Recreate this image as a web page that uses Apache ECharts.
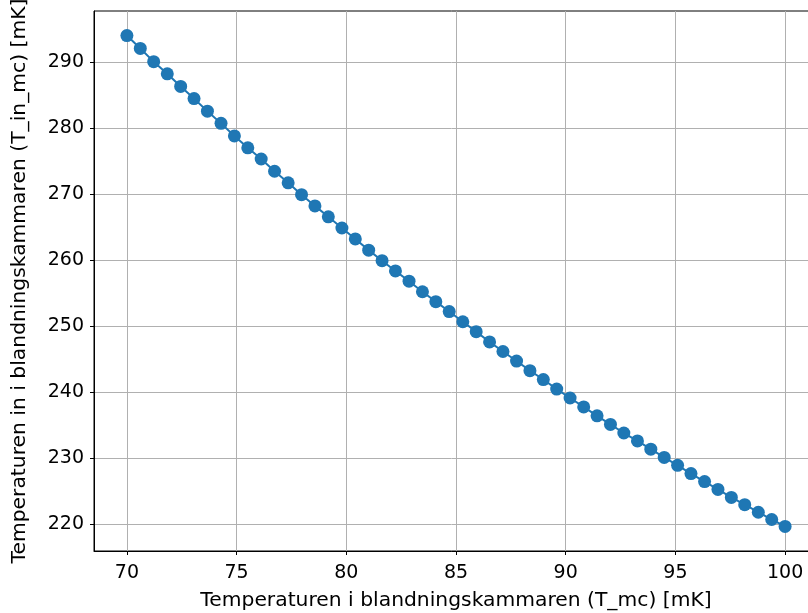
<!DOCTYPE html>
<html>
<head>
<meta charset="utf-8">
<script src="https://cdn.jsdelivr.net/npm/echarts@6/dist/echarts.min.js"></script>
<style>
html,body{margin:0;padding:0;background:#fff;}
#c{width:808px;height:613px;}
</style>
</head>
<body>
<div id="c"></div>
<script>
const tMc = [70.00, 70.61, 71.22, 71.84, 72.45, 73.06, 73.67, 74.29, 74.90, 75.51,
  76.12, 76.73, 77.35, 77.96, 78.57, 79.18, 79.80, 80.41, 81.02, 81.63,
  82.24, 82.86, 83.47, 84.08, 84.69, 85.31, 85.92, 86.53, 87.14, 87.76,
  88.37, 88.98, 89.59, 90.20, 90.82, 91.43, 92.04, 92.65, 93.27, 93.88,
  94.49, 95.10, 95.71, 96.33, 96.94, 97.55, 98.16, 98.78, 99.39, 100.00];
const tInMc = [294.0, 292.05, 290.05, 288.2, 286.3, 284.45, 282.55, 280.7, 278.8, 277.0,
  275.3, 273.45, 271.7, 269.9, 268.2, 266.55, 264.85, 263.2, 261.5, 259.9,
  258.35, 256.8, 255.2, 253.7, 252.2, 250.65, 249.15, 247.6, 246.15, 244.7,
  243.25, 241.9, 240.45, 239.1, 237.75, 236.4, 235.1, 233.8, 232.6, 231.35,
  230.1, 228.9, 227.65, 226.45, 225.25, 224.05, 222.95, 221.8, 220.7, 219.65];
const xTicks = [70, 75, 80, 85, 90, 95, 100];
const yTicks = [220, 230, 240, 250, 260, 270, 280, 290];
const xName = 'Temperaturen i blandningskammaren (T_mc) [mK]';
const yName = 'Temperaturen in i blandningskammaren (T_in_mc) [mK]';

const font = 'DejaVu Sans';
const chart = echarts.init(document.getElementById('c'), null, {renderer: 'canvas'});
const pts = tMc.map((x, i) => [x, tInMc[i]]);
chart.setOption({
  animation: false,
  backgroundColor: '#ffffff',
  grid: {left: 94, top: 11, width: 724, height: 540, containLabel: false,
    outerBoundsMode: 'none',
    show: true, borderColor: '#000', borderWidth: 1, backgroundColor: 'transparent'},
  xAxis: {
    type: 'value', min: 68.5, max: 101.5,
    name: xName, nameLocation: 'middle', nameGap: 40,
    nameTextStyle: {fontFamily: font, fontSize: 20.3, color: '#000'},
    axisLine: {show: true, onZero: false, lineStyle: {color: '#000', width: 1}},
    axisTick: {show: true, inside: false, length: 4, customValues: xTicks, lineStyle: {color: '#000'}},
    axisLabel: {customValues: xTicks, margin: 13, fontFamily: font, fontSize: 19, color: '#000'},
    splitLine: {show: true, lineStyle: {color: '#b0b0b0', width: 1}}
  },
  yAxis: {
    type: 'value', min: 215.93, max: 297.72,
    name: yName, nameLocation: 'middle', nameGap: 64, nameRotate: 90,
    nameTextStyle: {fontFamily: font, fontSize: 20.3, color: '#000'},
    axisLine: {show: true, onZero: false, lineStyle: {color: '#000', width: 1}},
    axisTick: {show: true, inside: false, length: 4, customValues: yTicks, lineStyle: {color: '#000'}},
    axisLabel: {customValues: yTicks, margin: 10, fontFamily: font, fontSize: 19, color: '#000'},
    splitLine: {show: true, lineStyle: {color: '#b0b0b0', width: 1}}
  },
  series: [{
    type: 'line',
    data: pts,
    symbol: 'circle',
    symbolSize: 13,
    showSymbol: true,
    itemStyle: {color: '#1f77b4', borderWidth: 0},
    lineStyle: {color: '#1f77b4', width: 2},
    z: 3
  }]
});
</script>
</body>
</html>
